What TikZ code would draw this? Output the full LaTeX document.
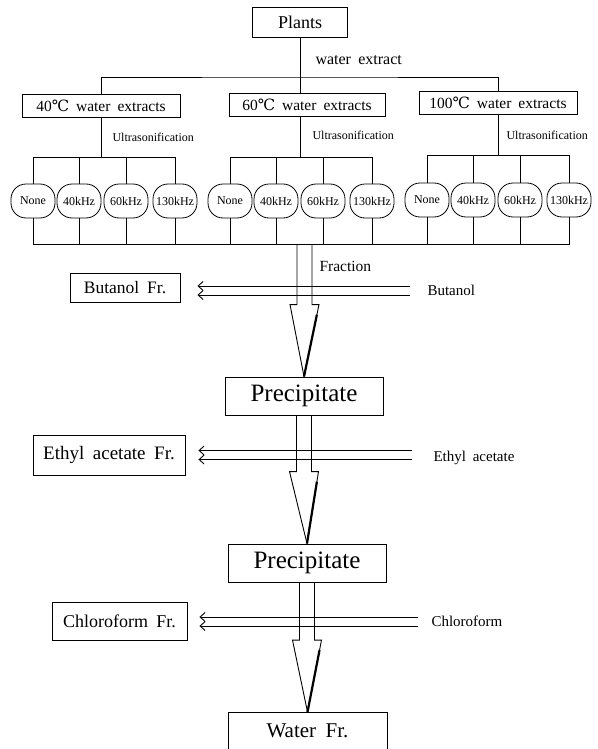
\documentclass[tikz,border=0pt]{standalone}
\usepackage{fontspec}
\setmainfont{Liberation Serif}[WordSpace=1.8]
\newfontfamily\degfont{DejaVu Serif}
\usetikzlibrary{arrows.meta,positioning,calc}

\newcommand{\dC}{{\degfont ℃}}
\newcommand{\fs}[1]{\fontsize{#1}{#1}\selectfont}
% hollow flow arrow: #1 start of shaft, #2 tip
\newcommand{\flowdown}[2]{%
  \path (#1 |- #2) coordinate (fb);
  \draw[flowline] ($(#1)+(-7.5,0)$) -- ($(fb)+(-7.5,-72)$) -- ++(-7,0) -- (#2);
  \draw[flowline] ($(#1)+(7.5,0)$) -- ($(fb)+(7.5,-72)$) -- ++(7,0) coordinate (sr) -- (#2);
  \draw[line width=2.2pt] ($(sr)!0.14!(#2)$) -- (#2);
}
% solvent fed to a fraction box: #1 source, #2 box, #3 gap
\newcommand{\solventin}[3]{%
  \foreach \dy in {4.5,-4.5}
    \draw[solvent, shorten >=#3, transform canvas={yshift=\dy pt}] (#1) -- (#1 -| #2.east);
}

\begin{document}
\begin{tikzpicture}[
  exbox/.style   = {draw, line width=0.9pt, inner sep=0pt, minimum height=23pt},
  tempbox/.style = {exbox, minimum width=158pt, font=\fs{15.5}},
  frbox/.style   = {draw, line width=0.9pt, inner sep=0pt, minimum height=38pt},
  usnode/.style  = {draw, line width=0.8pt, rounded corners=15pt, minimum width=44pt, minimum height=34pt, inner sep=0pt, font=\fs{12}},
  link/.style    = {line width=0.9pt},
  flowline/.style= {line width=0.9pt},
  solvent/.style = {line width=0.9pt, -{Straight Barb[length=5pt,width=9pt]}},
  x=1pt, y=-1pt,
]
  \useasboundingbox (0,0) rectangle (597,749);

  \node[exbox, minimum width=95pt, minimum height=30pt, font=\fs{18}] (plants) at (300,22) {Plants};
  \node[tempbox] (w40)  at (101,106) {40\dC\ water extracts};
  \node[tempbox, minimum width=156pt] (w60)  at (307,105) {60\dC\ water extracts};
  \node[tempbox] (w100) at (498,103) {100\dC\ water extracts};
  \node[anchor=west, font=\fs{16}] (wlbl) at (312,60) {water extract};

  \coordinate (split) at (300,77);
  \draw[link] (w40.north) |- (split) -| (w100.north);
  \draw[link] (plants.south) -- (plants.south |- w60.north);

  % ultrasonification groups
  \node[anchor=west, font=\fs{12}] (us1) at (109,137) {Ultrasonification};
  \node[anchor=west, font=\fs{12}] (us2) at (309,135) {Ultrasonification};
  \node[anchor=west, font=\fs{12}] (us3) at (503,135) {Ultrasonification};
  \coordinate (t1) at (101,157);
  \coordinate (t2) at (300,157);
  \coordinate (t3) at (498,155);
  \foreach \g/\gx/\gy in {1/33/201, 2/230/201, 3/427/200}
    \foreach \dx/\lab [count=\i] in {0/None,46/40kHz,93/60kHz,142/130kHz}
      \node[usnode] (u\g\i) at (\gx+\dx,\gy) {\lab};
  \draw[link] (w40.south) -- (t1);
  \draw[link] (t2 |- w60.south) -- (t2);
  \draw[link] (w100.south) -- (t3);
  \coordinate (bus) at (304.5,244);
  \foreach \g in {1,2,3}
    \foreach \i in {1,...,4} {
      \draw[link] (u\g\i.north) |- (t\g);
      \draw[link] (u\g\i.south) |- (bus);
    }

  % fractionation
  \node[anchor=west, font=\fs{15.5}] (frlbl) at (316,266) {Fraction};
  \node[frbox, minimum width=110pt, minimum height=29pt, font=\fs{17.5}] (butfr) at (125,287.5) {Butanol Fr.};
  \node[anchor=west, font=\fs{15}] (butlbl) at (424,290) {Butanol};
  \node[frbox, minimum width=158pt, font=\fs{25}] (prec1) at (304,396) {Precipitate};

  \node[frbox, minimum width=152pt, minimum height=40pt, font=\fs{19}] (ethfr) at (109,455) {Ethyl acetate Fr.};
  \node[anchor=west, font=\fs{15}] (ethlbl) at (430,458) {Ethyl acetate};
  \node[frbox, minimum width=158pt, font=\fs{25}] (prec2) at (307,563) {Precipitate};

  \node[frbox, minimum width=135pt, font=\fs{18}] (chlfr) at (119.5,621) {Chloroform Fr.};
  \node[anchor=west, font=\fs{15}] (chllbl) at (428,621) {Chloroform};
  \node[frbox, minimum width=159pt, minimum height=37pt, font=\fs{21}] (water) at (307.5,731) {Water Fr.};

  \coordinate (bsrc) at (410,290.5);
  \coordinate (esrc) at (412,455);
  \coordinate (csrc) at (418,621.5);
  \solventin{bsrc}{butfr}{17pt}
  \solventin{esrc}{ethfr}{13pt}
  \solventin{csrc}{chlfr}{12pt}

  \flowdown{bus}{prec1.north}
  \flowdown{prec1.south}{prec2.north}
  \flowdown{prec2.south}{water.north}
\end{tikzpicture}
\end{document}
